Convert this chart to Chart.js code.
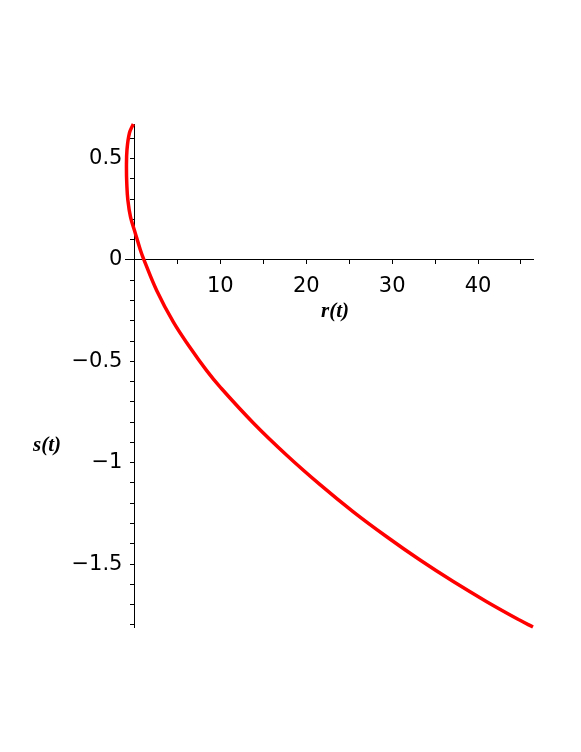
<!DOCTYPE html>
<html>
<head>
<meta charset="utf-8">
<script src="https://cdn.jsdelivr.net/npm/chart.js@4"></script>
<style>
  html, body { margin: 0; padding: 0; background: #ffffff; }
  #wrap { width: 581px; height: 752px; }
</style>
</head>
<body>
<div id="wrap"><canvas id="plot" width="581" height="752"></canvas></div>
<script>
// parametric curve (r(t), s(t))
const rValues = [-0.13, -0.58, -0.87, -0.93, -0.89, -0.77, -0.46, 0.09, 0.69, 1.11,
    2.59, 4.52, 6.47, 8.41, 9.96, 13.84, 17.73, 21.61, 25.48, 29.37,
    33.25, 37.12, 41.01, 44.89, 46.40];
const sValues = [0.670, 0.626, 0.542, 0.453, 0.374, 0.296, 0.212, 0.133, 0.049, 0.0,
    -0.151, -0.306, -0.432, -0.546, -0.626, -0.804, -0.963, -1.108, -1.242, -1.365,
    -1.480, -1.586, -1.685, -1.777, -1.810];

const xLabelValues = [10, 20, 30, 40];
const yLabelValues = [0.5, 0, -0.5, -1, -1.5];

const points = rValues.map((r, i) => ({ x: r, y: sValues[i] }));

function fmt(v) {
    const s = String(v);
    return v < 0 ? '\u2212' + s.slice(1) : s;
}

// y labels of an axis placed at x=0 sit flush on the line; move them off it
const yLabelGap = {
    id: 'yLabelGap',
    beforeDraw(chart) {
        const items = chart.scales.y.getLabelItems();
        if (!items._moved) {
            items.forEach(it => { it.options.translation[0] -= 12; });
            items._moved = true;
        }
    }
};

const axisTitles = {
    id: 'axisTitles',
    afterDraw(chart) {
        const ctx = chart.ctx;
        const xs = chart.scales.x;
        const ys = chart.scales.y;
        ctx.save();
        ctx.fillStyle = '#000000';
        ctx.font = 'italic bold 21px "Liberation Serif"';
        ctx.textAlign = 'center';
        ctx.textBaseline = 'middle';
        ctx.fillText('r(t)', (xs.left + xs.right) / 2 + 6, ys.getPixelForValue(0) + 52);
        ctx.fillText('s(t)', 47, 446);
        ctx.restore();
    }
};

new Chart(document.getElementById('plot'), {
    type: 'scatter',
    data: {
        datasets: [{
            data: points,
            showLine: true,
            borderColor: '#ff0000',
            borderWidth: 3.5,
            pointRadius: 0,
            tension: 0.4,
            fill: false,
            clip: false
        }]
    },
    options: {
        responsive: false,
        devicePixelRatio: 1,
        animation: false,
        layout: { padding: { left: 125, right: 48, top: 124, bottom: 125 } },
        plugins: {
            legend: { display: false },
            tooltip: { enabled: false }
        },
        scales: {
            x: {
                type: 'linear',
                position: { y: 0 },
                min: -1.1,
                max: 46.4,
                grid: { drawOnChartArea: false, drawTicks: true, tickLength: 4, color: '#000000' },
                border: { display: true, color: '#000000', width: 1 },
                ticks: {
                    stepSize: 5,
                    includeBounds: false,
                    autoSkip: false,
                    maxRotation: 0,
                    padding: 10,
                    color: '#000000',
                    font: { family: '"DejaVu Sans"', size: 21 },
                    callback: (v) => xLabelValues.includes(v) ? fmt(v) : ''
                }
            },
            y: {
                type: 'linear',
                position: { x: 0 },
                min: -1.81,
                max: 0.67,
                grid: { drawOnChartArea: false, drawTicks: true, tickLength: 4, color: '#000000' },
                border: { display: true, color: '#000000', width: 1 },
                ticks: {
                    stepSize: 0.1,
                    includeBounds: false,
                    autoSkip: false,
                    padding: 8,
                    color: '#000000',
                    font: { family: '"DejaVu Sans"', size: 21 },
                    callback: (v) => {
                        const r = Math.round(v * 10) / 10;
                        return yLabelValues.includes(r) ? fmt(r) : '';
                    }
                }
            }
        }
    },
    plugins: [yLabelGap, axisTitles]
});
</script>
</body>
</html>
